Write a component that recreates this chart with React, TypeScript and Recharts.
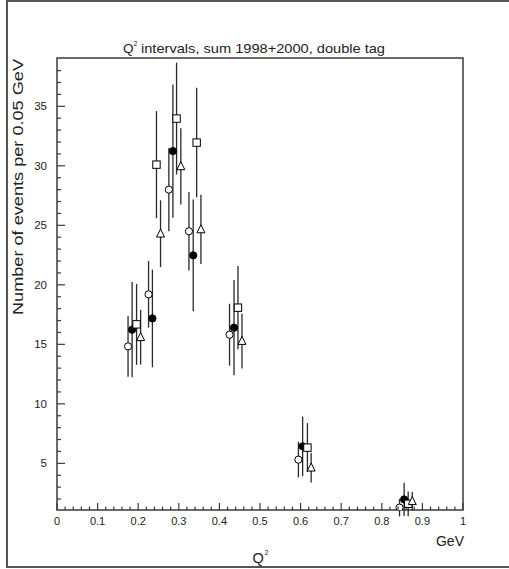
import React from 'react';
import { ScatterChart, Scatter, XAxis, YAxis, ErrorBar, ReferenceArea } from 'recharts';

// Q^2 bin positions (GeV) and event counts, per marker style
const openCircleQ2 = [0.175, 0.2255, 0.2755, 0.325, 0.425, 0.5946, 0.8437];
const openCircleN = [14.83, 19.2, 28.0, 24.5, 15.81, 5.31, 1.28];
const openCircleErr = [2.55, 2.8, 3.5, 3.3, 2.6, 1.5, 0.74];

const filledCircleQ2 = [0.185, 0.235, 0.2855, 0.3355, 0.436, 0.605, 0.855];
const filledCircleN = [16.23, 17.18, 31.24, 22.48, 16.4, 6.43, 1.97];
const filledCircleErr = [4.0, 4.1, 5.6, 4.7, 4.0, 2.5, 1.4];

const squareQ2 = [0.196, 0.245, 0.2945, 0.344, 0.4457, 0.6168, 0.865];
const squareN = [16.68, 30.1, 33.97, 31.95, 18.08, 6.32, 1.6];
const squareErr = [3.4, 4.5, 4.7, 4.6, 3.5, 2.06, 1.04];

const triangleQ2 = [0.206, 0.255, 0.305, 0.3545, 0.4556, 0.626, 0.875];
const triangleN = [15.6, 24.3, 29.96, 24.66, 15.28, 4.64, 1.82];
const triangleErr = [2.3, 2.8, 3.2, 2.9, 2.3, 1.25, 0.78];

// axis ticks
const xMajor = [0, 0.1, 0.2, 0.3, 0.4, 0.5, 0.6, 0.7, 0.8, 0.9, 1];
const xLabels = ['0', '0.1', '0.2', '0.3', '0.4', '0.5', '0.6', '0.7', '0.8', '0.9', '1'];
const xTicks = Array.from({ length: 51 }, (_, i) => i / 50);
const yMajor = [5, 10, 15, 20, 25, 30, 35];
const yLabels = ['5', '10', '15', '20', '25', '30', '35'];
const yTicks = Array.from({ length: 37 }, (_, i) => i + 2);

const X_DOMAIN = [0, 1];
const Y_DOMAIN = [1.08, 39.06];

const AXIS = '#3a3a3a';
const INK = '#222';
const FONT = '"Liberation Sans", Arial, sans-serif';

const toPoints = (q2: number[], n: number[], err: number[]) =>
  q2.map((q, i) => ({ q2: q, n: n[i], err: err[i] }));

const near = (a: number, b: number) => Math.abs(a - b) < 1e-6;

function XTick({ x, y, payload }: any) {
  const idx = xMajor.findIndex((m) => near(m, payload.value));
  const major = idx >= 0;
  return (
    <g>
      <line x1={x} x2={x} y1={y} y2={y - (major ? 7 : 3.5)} stroke={AXIS} strokeWidth={1.2} />
      {major && (
        <text x={x} y={y + 15} textAnchor="middle" fontSize={11} fontFamily={FONT} fill={INK}>
          {xLabels[idx]}
        </text>
      )}
    </g>
  );
}

function YTick({ x, y, payload }: any) {
  const idx = yMajor.findIndex((m) => near(m, payload.value));
  const major = idx >= 0;
  return (
    <g>
      <line x1={x} x2={x + (major ? 8 : 4)} y1={y} y2={y} stroke={AXIS} strokeWidth={1.2} />
      {major && (
        <text x={x - 10} y={y + 4} textAnchor="end" fontSize={11.5} fontFamily={FONT} fill={INK}>
          {yLabels[idx]}
        </text>
      )}
    </g>
  );
}

const filledCircle = (p: any) => <circle cx={p.cx} cy={p.cy} r={3.6} fill="#000" stroke="#000" strokeWidth={1} />;
const openCircle = (p: any) => <circle cx={p.cx} cy={p.cy} r={3.6} fill="#fff" stroke="#000" strokeWidth={1} />;
const openSquare = (p: any) => (
  <rect x={p.cx - 3.7} y={p.cy - 3.7} width={7.4} height={7.4} fill="#fff" stroke="#000" strokeWidth={1} />
);
const openTriangle = (p: any) => (
  <path
    d={`M${p.cx},${p.cy - 4.6} L${p.cx + 4},${p.cy + 3.4} L${p.cx - 4},${p.cy + 3.4} Z`}
    fill="#fff"
    stroke="#000"
    strokeWidth={1}
  />
);

const series = [
  { name: 'open circle', data: toPoints(openCircleQ2, openCircleN, openCircleErr), shape: openCircle },
  { name: 'filled circle', data: toPoints(filledCircleQ2, filledCircleN, filledCircleErr), shape: filledCircle },
  { name: 'square', data: toPoints(squareQ2, squareN, squareErr), shape: openSquare },
  { name: 'triangle', data: toPoints(triangleQ2, triangleN, triangleErr), shape: openTriangle },
];

export default function App() {
  return (
    <div style={{ position: 'absolute', left: 0, top: 0, width: 509, height: 569, background: '#fff' }}>
      <ScatterChart width={509} height={569} margin={{ top: 58, right: 46, bottom: 29, left: 17 }}>
        <XAxis
          type="number"
          dataKey="q2"
          domain={X_DOMAIN}
          allowDataOverflow
          ticks={xTicks}
          interval={0}
          height={30}
          axisLine={false}
          tickLine={false}
          tickSize={0}
          tickMargin={0}
          tick={XTick}
        />
        <YAxis
          type="number"
          dataKey="n"
          domain={Y_DOMAIN}
          allowDataOverflow
          ticks={yTicks}
          interval={0}
          width={40}
          axisLine={false}
          tickLine={false}
          tickSize={0}
          tickMargin={0}
          tick={YTick}
        />
        <ReferenceArea
          x1={X_DOMAIN[0]}
          x2={X_DOMAIN[1]}
          y1={Y_DOMAIN[0]}
          y2={Y_DOMAIN[1]}
          fill="none"
          fillOpacity={0}
          stroke={AXIS}
          strokeWidth={1.5}
          ifOverflow="visible"
        />
        {series.map((s) => (
          <Scatter key={s.name} name={s.name} data={s.data} shape={s.shape} isAnimationActive={false}>
            <ErrorBar dataKey="err" direction="y" width={0} stroke="#2a2a2a" strokeWidth={1.3} isAnimationActive={false} />
          </Scatter>
        ))}
      </ScatterChart>
      <svg
        width={509}
        height={569}
        style={{ position: 'absolute', left: 0, top: 0, pointerEvents: 'none' }}
      >
        <path d="M512,1 H7 V567 H512" fill="none" stroke="#555" strokeWidth={2} />
        <text x={123} y={53} fontSize={13.5} fontFamily={FONT} fill={INK}>Q</text>
        <text x={133.5} y={46} fontSize={7} fontFamily={FONT} fill={INK}>2</text>
        <text x={141} y={53} fontSize={13.5} fontFamily={FONT} fill={INK} textLength={244} lengthAdjust="spacingAndGlyphs">
          intervals, sum 1998+2000, double tag
        </text>
        <text
          x={18}
          y={187}
          transform="rotate(-90 18 187)"
          textAnchor="middle"
          dominantBaseline="central"
          fontSize={14.5}
          fontFamily={FONT}
          fill={INK}
          textLength={256}
          lengthAdjust="spacingAndGlyphs"
        >
          Number of events per 0.05 GeV
        </text>
        <text x={252.5} y={563} fontSize={14.5} fontFamily={FONT} fill={INK}>Q</text>
        <text x={264.5} y={555} fontSize={7} fontFamily={FONT} fill={INK}>2</text>
        <text x={464} y={546} textAnchor="end" fontSize={14} fontFamily={FONT} fill={INK}>GeV</text>
      </svg>
    </div>
  );
}
